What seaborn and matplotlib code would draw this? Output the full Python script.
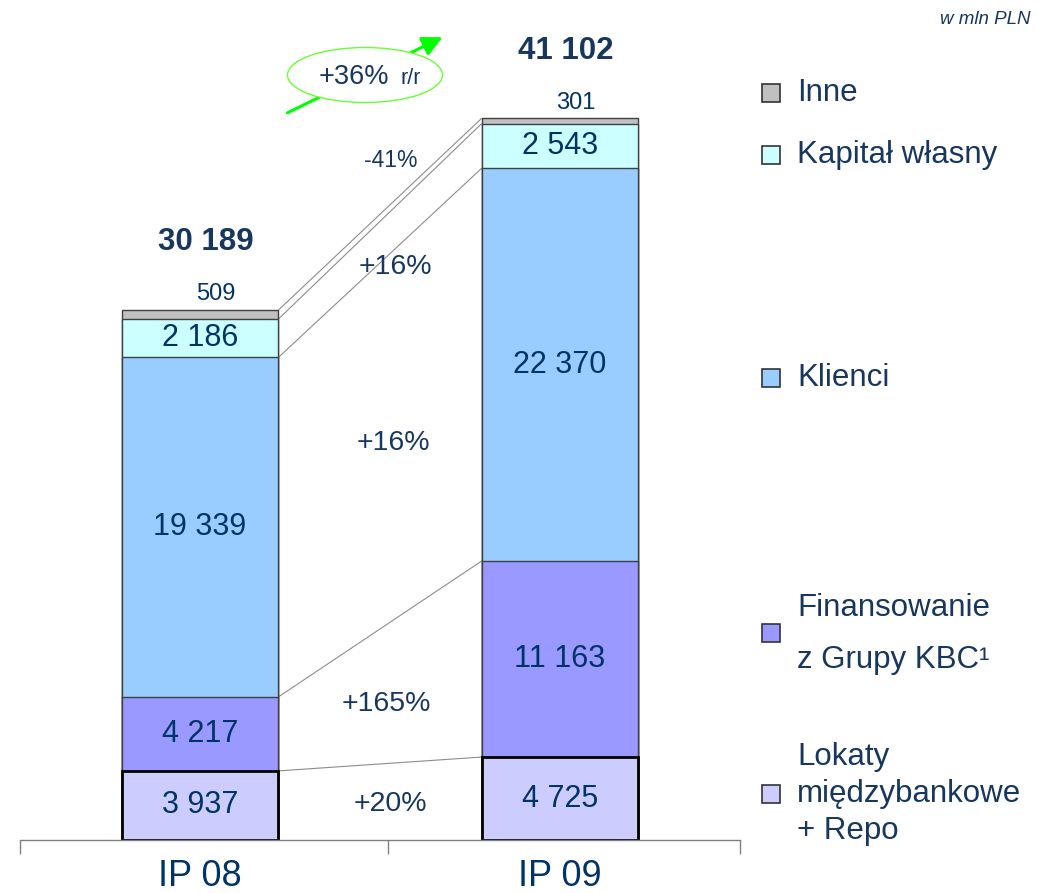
import pandas as pd
import seaborn as sns
import matplotlib.pyplot as plt
from matplotlib.patches import Ellipse, Rectangle, FancyArrowPatch

# dane (w mln PLN)
okresy = ["IP 08", "IP 09"]
lokaty = [3937, 4725]
finansowanie = [4217, 11163]
klienci = [19339, 22370]
kapital = [2186, 2543]
inne = [509, 301]
sumy = [30189, 41102]
zmiany = ["+20%", "+165%", "+16%", "+16%", "-41%"]
serie = ["Lokaty", "Finansowanie", "Klienci", "Kapital", "Inne"]
legenda = ["Lokaty\nmiędzybankowe\n+ Repo", "Finansowanie\nz Grupy KBC\u00b9",
           "Klienci", "Kapitał własny", "Inne"]
kolory = ["#CCCCFF", "#9999FF", "#99CCFF", "#CCFFFF", "#C0C0C0"]

sns.set_style("white")
plt.rcParams['font.family'] = ['Liberation Sans', 'DejaVu Sans']

granat = "#003366"
tekst = "#17375E"

df = pd.DataFrame({"okres": okresy, "Lokaty": lokaty, "Finansowanie": finansowanie,
                   "Klienci": klienci, "Kapital": kapital, "Inne": inne})
cum = df[serie].cumsum(axis=1)
szer = 0.436

fig = plt.figure(figsize=(10.38, 8.93), dpi=100)
ax = fig.add_axes([20 / 1038, 53 / 893, 720 / 1038, 840 / 893])

# stacked bars: draw cumulative totals from the top down
for col, kol in zip(reversed(serie), reversed(kolory)):
    lw = 2 if col == "Lokaty" else 1
    ec = "black" if col == "Lokaty" else "#404040"
    sns.barplot(x=df["okres"], y=cum[col], color=kol, saturation=1, width=szer,
                edgecolor=ec, linewidth=lw, errorbar=None, ax=ax, zorder=2)

# values inside segments
for i in range(len(okresy)):
    for j, col in enumerate(serie[:-1]):
        dol = cum[col][i] - df[col][i]
        ax.text(i, dol + df[col][i] / 2, f"{df[col][i]:,}".replace(",", " "),
                ha="center", va="center", fontsize=22, color=granat, zorder=5)
    ax.text(i + 0.045, sumy[i] + 280, str(inne[i]), ha="center", va="bottom",
            fontsize=17, color=granat)
    ax.text(i + 0.015, sumy[i] + 3850, f"{sumy[i]:,}".replace(",", " "),
            ha="center", va="center", fontsize=22.5, fontweight="bold", color=tekst)

# connectors between bars
for col in serie:
    ax.plot([szer / 2, 1 - szer / 2], [cum[col][0], cum[col][1]],
            color="#8C8C8C", lw=0.8, zorder=1)

# percentage changes
zm_x = [0.528, 0.517, 0.536, 0.542, 0.53]
zm_y = [2050, 7750, 22610, 32640, 38730]
zm_size = [20.5, 20.5, 20.5, 20.5, 16.5]
for t, x, y, s in zip(zmiany, zm_x, zm_y, zm_size):
    ax.text(x, y, t, ha="center", va="center", fontsize=s, color=tekst, zorder=6)

ax.set_xlim(-0.5, 1.5)
ax.set_ylim(0, 47850)
ax.set_xlabel("")
ax.set_ylabel("")
ax.set_yticks([])
ax.set_xticks([0, 1])
ax.set_xticklabels(okresy, fontsize=26, color=granat)
ax.set_xticks([-0.5, 0.522, 1.5], minor=True)
ax.tick_params(axis="x", which="major", length=0, pad=14)
ax.tick_params(axis="x", which="minor", length=10, color="#808080", width=1, bottom=True)
for s in ["left", "top", "right"]:
    ax.spines[s].set_visible(False)
ax.spines["bottom"].set_color("#808080")
ax.spines["bottom"].set_linewidth(1)

# legend (manual, as in the slide)
leg_y = [794, 633, 378, 155, 93]
leg_txt_y = [794, 634, 378, 155, 93]
leg_ls = [1.3, 1.95, 1, 1, 1]
for lab, kol, y, ty, ls in zip(legenda, kolory, leg_y, leg_txt_y, leg_ls):
    fig.add_artist(Rectangle((762 / 1038, 1 - (y + 9) / 893), 18 / 1038, 18 / 893,
                             facecolor=kol, edgecolor="#333333", lw=1.2,
                             transform=fig.transFigure))
    fig.text(797 / 1038, 1 - ty / 893, lab, ha="left", va="center", fontsize=22.5,
             color=tekst, linespacing=ls)

fig.text(1030 / 1038, 1 - 20 / 893, "w mln PLN", ha="right", va="center",
         fontsize=13.5, style="italic", color=tekst)

# growth arrow with ellipse
fig.add_artist(FancyArrowPatch((285 / 1038, 1 - 114 / 893), (445 / 1038, 1 - 36 / 893),
                               transform=fig.transFigure, arrowstyle="-|>",
                               mutation_scale=30, color="#00FF00", lw=2.2, zorder=1))
fig.add_artist(Ellipse((365 / 1038, 1 - 75 / 893), 155 / 1038, 55 / 893,
                       transform=fig.transFigure, facecolor="white",
                       edgecolor="#66FF33", lw=1, zorder=2))
fig.text(354 / 1038, 1 - 84 / 893, "+36%", ha="center", va="baseline",
         fontsize=19.5, color=tekst, zorder=3)
fig.text(400 / 1038, 1 - 84 / 893, "r/r", ha="left", va="baseline",
         fontsize=15.5, color=tekst, zorder=3)

fig.savefig("out.png", dpi=100)
